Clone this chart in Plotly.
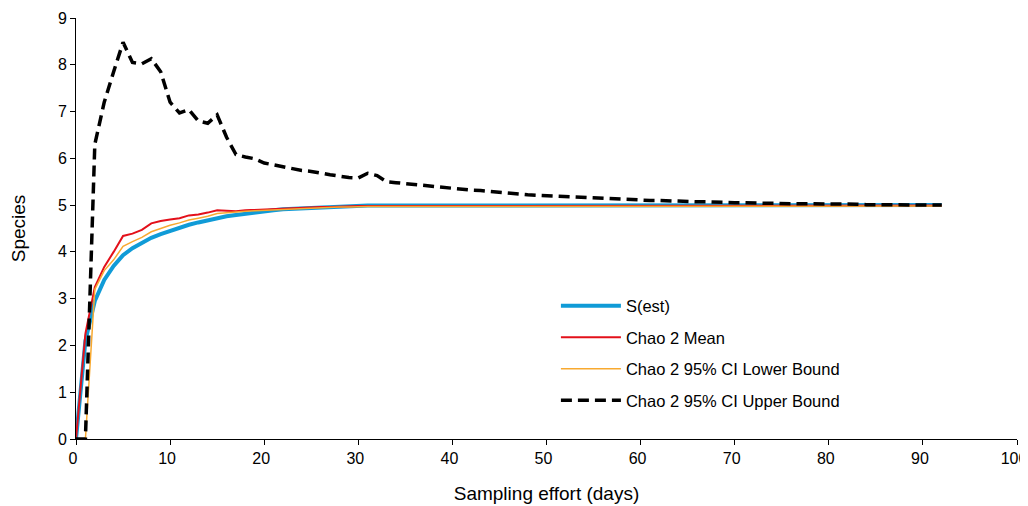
import plotly.graph_objects as go

days = list(range(0, 93))

s_est = [0, 2.1, 2.95, 3.4, 3.7, 3.93, 4.08, 4.2, 4.3, 4.38,
         4.45, 4.52, 4.58, 4.63, 4.68, 4.73, 4.76, 4.79, 4.82, 4.85,
         4.87, 4.89, 4.91, 4.92, 4.94, 4.95, 4.96, 4.97, 4.97, 4.98,
         4.98, 4.99, 4.99, 4.99, 4.99, 4.99, 5.0, 5.0, 5.0, 5.0,
         5.0, 5.0, 5.0, 5.0, 5.0, 5.0, 5.0, 5.0, 5.0, 5.0,
         5.0, 5.0, 5.0, 5.0, 5.0, 5.0, 5.0, 5.0, 5.0, 5.0,
         5.0, 5.0, 5.0, 5.0, 5.0, 5.0, 5.0, 5.0, 5.0, 5.0,
         5.0, 5.0, 5.0, 5.0, 5.0, 5.0, 5.0, 5.0, 5.0, 5.0,
         5.0, 5.0, 5.0, 5.0, 5.0, 5.0, 5.0, 5.0, 5.0, 5.0,
         5.0, 5.0, 5.0]

chao_mean = [0, 2.25, 3.25, 3.68, 4.0, 4.34, 4.39, 4.47, 4.61, 4.66,
             4.69, 4.72, 4.78, 4.8, 4.84, 4.89, 4.88, 4.87, 4.89, 4.9,
             4.91, 4.92, 4.93, 4.94, 4.95, 4.95, 4.96, 4.96, 4.97, 4.97,
             4.98, 4.98, 4.98, 4.98, 4.98, 4.98, 4.98, 4.98, 4.98, 4.98,
             4.98, 4.98, 4.98, 4.98, 4.98, 4.98, 4.98, 4.98, 4.98, 4.98,
             4.99, 4.99, 4.99, 4.99, 4.99, 4.99, 4.99, 4.99, 4.99, 4.99,
             4.99, 4.99, 4.99, 4.99, 4.99, 4.99, 4.99, 4.99, 4.99, 4.99,
             4.99, 4.99, 4.99, 4.99, 4.99, 4.99, 4.99, 4.99, 4.99, 4.99,
             4.99, 4.99, 4.99, 4.99, 4.99, 4.99, 4.99, 4.99, 4.99, 4.99,
             4.99, 4.99, 4.99]

chao_lower = [0, 0, 3.2, 3.6, 3.83, 4.12, 4.22, 4.31, 4.43, 4.5,
              4.57, 4.62, 4.68, 4.72, 4.76, 4.82, 4.84, 4.85, 4.87, 4.88,
              4.89, 4.9, 4.91, 4.92, 4.93, 4.94, 4.95, 4.95, 4.96, 4.96,
              4.97, 4.97, 4.97, 4.97, 4.97, 4.97, 4.97, 4.97, 4.97, 4.97,
              4.97, 4.97, 4.97, 4.97, 4.97, 4.97, 4.97, 4.97, 4.97, 4.97,
              4.98, 4.98, 4.98, 4.98, 4.98, 4.98, 4.98, 4.98, 4.98, 4.98,
              4.98, 4.98, 4.98, 4.98, 4.98, 4.98, 4.98, 4.98, 4.98, 4.98,
              4.98, 4.98, 4.98, 4.98, 4.98, 4.98, 4.98, 4.98, 4.98, 4.98,
              4.98, 4.98, 4.98, 4.98, 4.98, 4.98, 4.98, 4.98, 4.98, 4.98,
              4.98, 4.98, 4.98]

chao_upper = [0, 0, 6.3, 7.2, 7.85, 8.48, 8.05, 8.02, 8.13, 7.85,
              7.2, 6.97, 7.04, 6.8, 6.75, 6.93, 6.45, 6.08, 6.03, 5.99,
              5.9, 5.86, 5.83, 5.78, 5.74, 5.72, 5.68, 5.65, 5.62, 5.59,
              5.58, 5.68, 5.63, 5.5, 5.48, 5.46, 5.43, 5.41, 5.39, 5.37,
              5.35, 5.34, 5.32, 5.31, 5.29, 5.27, 5.26, 5.24, 5.22, 5.21,
              5.2, 5.19, 5.18, 5.17, 5.16, 5.16, 5.15, 5.14, 5.13, 5.12,
              5.11, 5.1, 5.1, 5.09, 5.08, 5.08, 5.07, 5.07, 5.06, 5.05,
              5.05, 5.05, 5.04, 5.04, 5.04, 5.03, 5.03, 5.03, 5.03, 5.02,
              5.02, 5.02, 5.02, 5.02, 5.01, 5.01, 5.01, 5.01, 5.01, 5.01,
              5.01, 5.0, 5.0]

x_ticks = [0, 10, 20, 30, 40, 50, 60, 70, 80, 90, 100]
y_ticks = [0, 1, 2, 3, 4, 5, 6, 7, 8, 9]

font_family = "Liberation Sans, Arial, sans-serif"

fig = go.Figure()
fig.add_trace(go.Scatter(x=days, y=s_est, mode="lines", name="S(est)",
                         line=dict(color="#109BD7", width=4), legendgroup="a"))
fig.add_trace(go.Scatter(x=days, y=chao_mean, mode="lines", name="Chao 2 Mean",
                         line=dict(color="#E3101A", width=2), legendgroup="b"))
fig.add_trace(go.Scatter(x=days, y=chao_lower, mode="lines", name="Chao 2 95% CI Lower Bound",
                         line=dict(color="#F8A930", width=1.5), legendgroup="c"))
fig.add_trace(go.Scatter(x=days, y=chao_upper, mode="lines", name="Chao 2 95% CI Upper Bound",
                         line=dict(color="#000000", width=3.5, dash="11px,6px"), legendgroup="d"))

# The page body adds an 8px offset; size and margins compensate for it.
fig.update_layout(
    width=1020, height=498,
    margin=dict(l=68, r=11, t=10, b=67),
    paper_bgcolor="white", plot_bgcolor="white",
    font=dict(family=font_family, size=16, color="#000000"),
    showlegend=True,
    legend=dict(x=0.51, y=0.204, xanchor="left", yanchor="middle",
                font=dict(size=16.5, color="#000000"),
                traceorder="grouped", tracegroupgap=7,
                itemwidth=60, bgcolor="rgba(0,0,0,0)"),
    xaxis=dict(range=[0, 100], tickvals=x_ticks, showgrid=False, zeroline=False,
               showline=True, linecolor="#000000", linewidth=1,
               ticks="outside", ticklen=5, tickcolor="#000000",
               automargin=False, ticklabeloverflow="allow", ticklabelshift=-3,
               title=dict(text="Sampling effort (days)", font=dict(size=19), standoff=20),
               tickfont=dict(size=16)),
    yaxis=dict(range=[0, 9], tickvals=y_ticks, showgrid=False, zeroline=False,
               showline=True, linecolor="#000000", linewidth=1,
               ticks="outside", ticklen=5, tickcolor="#000000",
               automargin=False, ticklabeloverflow="allow",
               title=dict(text="Species", font=dict(size=19), standoff=28),
               tickfont=dict(size=16)),
)

fig.write_html("out.html")
